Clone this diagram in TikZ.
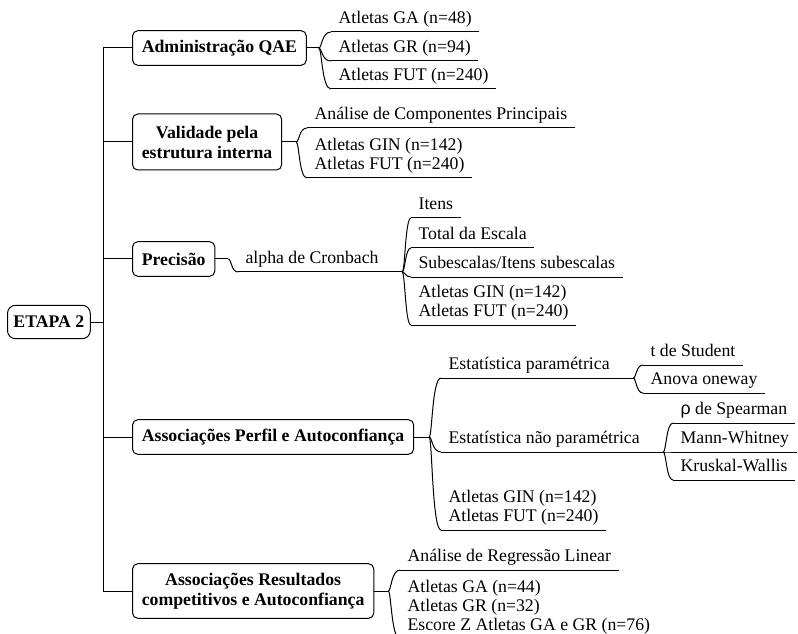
\documentclass[tikz,border=0pt]{standalone}
\usepackage{fontspec}
\setmainfont{Liberation Serif}
\newfontfamily\symfont{Liberation Sans}
\usetikzlibrary{calc}
% keeps every underline 6pt below the last baseline of a leaf
\newcommand\ulgap{\rule[-6pt]{0pt}{1pt}}
\begin{document}
\begin{tikzpicture}[x=0.75pt,y=-0.75pt,
  every node/.style={font=\fontsize{13.3}{14.25}\selectfont},
  topic/.style={draw, line width=0.75pt, rounded corners=4pt, inner xsep=7pt,
    inner ysep=3pt, minimum height=26pt, align=center, anchor=west,
    font=\fontsize{13.3}{15}\selectfont\bfseries},
  leaf/.style={anchor=south west, inner xsep=5.5pt, inner ysep=0pt, align=left},
  link/.style={line width=0.75pt},
  brace/.style={to path={.. controls ($(\tikztostart)+(3,0)$) and
      ($(\tikztostart|-\tikztotarget)+(3,0)$) .. (\tikztotarget)}},
]
\useasboundingbox (0,0) rectangle (798,634);
\clip (0,0) rectangle (798,634);

% main topics
\node[topic, inner xsep=4.5pt, minimum height=25pt, rounded corners=6pt] (root) at (7,322) {ETAPA 2};
\node[topic] (adm) at (132,48) {Administração QAE};
\node[topic, minimum height=42pt] (val) at (132,142) {Validade pela\\estrutura interna};
\node[topic] (pre) at (132,259) {Precisão};
\node[topic] (perf) at (132,437) {Associações Perfil e Autoconfiança};
\node[topic, minimum height=41pt] (res) at (132,591) {Associações Resultados\\competitivos e Autoconfiança};

% trunk
\coordinate (tr) at (103,322);
\draw[link] (root.east) -- (tr);
\foreach \t in {adm,val,pre,perf,res} \draw[link] (tr) |- (\t.west);

% leaves
\node[leaf] (a1) at (331,32) {Atletas GA (n=48)\ulgap};
\node[leaf] (a2) at (331,61) {Atletas GR (n=94)\ulgap};
\node[leaf] (a3) at (331,89) {Atletas FUT (n=240)\ulgap};

\node[leaf] (v1) at (307,128) {Análise de Componentes Principais\ulgap};
\node[leaf] (v2) at (307,178) {Atletas GIN (n=142)\\Atletas FUT (n=240)\ulgap};

\node[leaf] (p0) at (238,272) {alpha de Cronbach\ulgap};
\node[leaf] (p1) at (411,218) {Itens\ulgap};
\node[leaf] (p2) at (411,248) {Total da Escala\ulgap};
\node[leaf] (p3) at (411,277) {Subescalas/Itens subescalas\ulgap};
\node[leaf] (p4) at (411,325) {Atletas GIN (n=142)\\Atletas FUT (n=240)\ulgap};

\node[leaf] (e1) at (441,378) {Estatística paramétrica\ulgap};
\node[leaf] (e2) at (441,452) {Estatística não paramétrica\ulgap};
\node[leaf] (e3) at (441,530) {Atletas GIN (n=142)\\Atletas FUT (n=240)\ulgap};
\node[leaf] (t1) at (643,365) {t de Student\ulgap};
\node[leaf] (t2) at (643,393) {Anova oneway\ulgap};
\node[leaf] (n1) at (673,423) {{\symfont ρ} de Spearman\ulgap};
\node[leaf] (n2) at (673,452) {Mann-Whitney\ulgap};
\node[leaf] (n3) at (673,480) {Kruskal-Wallis\ulgap};

\node[leaf] (r1) at (400,570) {Análise de Regressão Linear\ulgap};
\node[leaf] (r2) at (400,639) {Atletas GA (n=44)\\Atletas GR (n=32)\\Escore Z Atletas GA e GR (n=76)\ulgap};

% underlines of the end leaves
\foreach \c in {a1,a2,a3,v1,v2,p1,p2,p3,p4,e3,t1,t2,n1,n2,n3,r1,r2}
  \draw[link] (\c.south west) -- (\c.south east);

% junctions after each topic
\coordinate (admJ) at ($(adm.east)+(12,0)$);
\coordinate (valJ) at ($(val.east)+(14,0)$);
\coordinate (preJ) at ($(pre.east)+(13,0)$);
\coordinate (perfJ) at ($(perf.east)+(15,0)$);
\coordinate (resJ) at ($(res.east)+(14,0)$);
\foreach \t in {adm,val,pre,perf,res} \draw[link] (\t.east) -- (\t J);

% junctions at the end of the inner leaves
\coordinate (p0J) at ($(p0.south east)+(16,0)$);
\coordinate (e1J) at ($(e1.south east)+(16,0)$);
\coordinate (e2J) at ($(e2.south east)+(16,0)$);
\foreach \c in {p0,e1,e2} \draw[link] (\c.south west) -- (\c J);

% curved brackets
\foreach \c in {a1,a2,a3} \draw[link] (admJ) to[brace] (\c.south west);
\foreach \c in {v1,v2} \draw[link] (valJ) to[brace] (\c.south west);
\draw[link] (preJ) to[brace] (p0.south west);
\foreach \c in {p1,p2,p3,p4} \draw[link] (p0J) to[brace] (\c.south west);
\foreach \c in {e1,e2,e3} \draw[link] (perfJ) to[brace] (\c.south west);
\foreach \c in {t1,t2} \draw[link] (e1J) to[brace] (\c.south west);
\foreach \c in {n1,n2,n3} \draw[link] (e2J) to[brace] (\c.south west);
\foreach \c in {r1,r2} \draw[link] (resJ) to[brace] (\c.south west);
\end{tikzpicture}
\end{document}
